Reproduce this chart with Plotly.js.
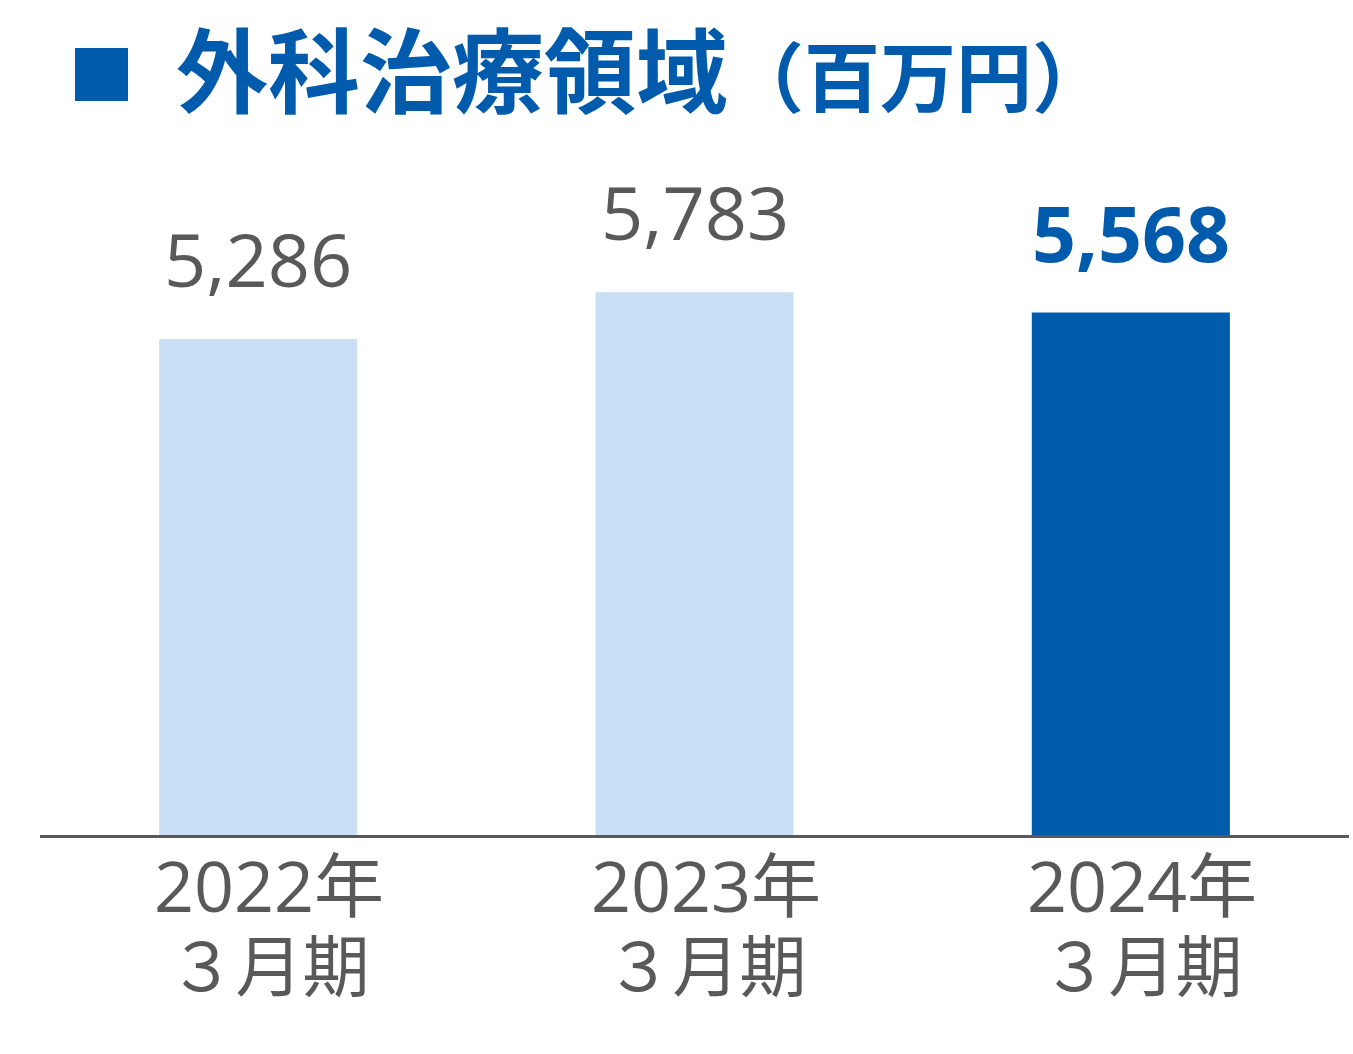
<!DOCTYPE html>
<html>
<head>
<meta charset="utf-8">
<script src="https://cdn.plot.ly/plotly-3.0.1.min.js"></script>
<style>html,body{margin:0;padding:0;background:#fff;}#chart{width:1353px;height:1054px;}</style>
</head>
<body>
<div id="chart"></div>
<script>
const titleMain = '外科治療領域';
const titleUnit = '（百万円）';
const years = ['2022年', '2023年', '2024年'];
const periods = ['３月期', '３月期', '３月期'];
const values = [5286, 5783, 5568];
const categories = years.map((y, i) => y + periods[i]);
const valueLabels = values.map(v => v.toLocaleString('en-US'));

const BLUE = '#005BAC';
const LIGHT = '#C9DFF5';
const GRAY = '#595959';
const barColors = values.map((v, i) => i === values.length - 1 ? BLUE : LIGHT);

const W = 1353, H = 1054;
const mL = 40, mR = 4, mT = 150, mB = 219;
const plotW = W - mL - mR, plotH = H - mT - mB;
const px2x = px => (px - mL) / plotW;
const py2y = py => (H - mB - py) / plotH;

const annotations = [];
// title
annotations.push({
  xref: 'paper', yref: 'paper', x: px2x(174), y: py2y(65), xanchor: 'left', yanchor: 'middle',
  text: '<b>' + titleMain + '<span style="font-size:76px">' + titleUnit + '</span></b>',
  showarrow: false,
  font: {family: 'Noto Sans CJK JP', size: 92, color: BLUE}
});
// value labels
values.forEach((v, i) => {
  const last = i === values.length - 1;
  annotations.push({
    xref: 'x', yref: 'y', x: categories[i], y: v, xanchor: 'center', yanchor: 'bottom',
    yshift: last ? 26 : 28, showarrow: false,
    text: last ? '<b>' + valueLabels[i] + '</b>' : valueLabels[i],
    font: {family: 'Open Sans, DejaVu Sans, sans-serif', size: last ? 77 : 74, color: last ? BLUE : GRAY}
  });
});
// category labels (two lines, one text each; base size sets the 79px line pitch)
years.forEach((y, i) => {
  annotations.push({
    xref: 'x', yref: 'paper', x: categories[i], y: py2y(924), xanchor: 'center', yanchor: 'middle',
    xshift: 11, showarrow: false,
    text: '<span style="font-size:70px">' + y + '</span><br><span style="font-size:67px">' + periods[i] + '</span>',
    font: {family: 'Open Sans, Noto Sans CJK JP, sans-serif', size: 61, color: GRAY}
  });
});

const data = [{
  type: 'bar',
  x: categories,
  y: values,
  marker: {color: barColors, line: {width: 0}},
  hoverinfo: 'none'
}];

const layout = {
  width: W, height: H,
  margin: {l: mL, r: mR, t: mT, b: mB, pad: 0},
  paper_bgcolor: '#fff', plot_bgcolor: '#fff',
  bargap: 0.546,
  showlegend: false,
  xaxis: {
    type: 'category', showticklabels: false, ticks: '', showgrid: false, zeroline: false,
    showline: true, linecolor: GRAY, linewidth: 3
  },
  yaxis: {
    range: [0, 7300], visible: false, showgrid: false, zeroline: false
  },
  shapes: [{
    type: 'rect', xref: 'paper', yref: 'paper',
    x0: px2x(75), x1: px2x(128), y0: py2y(101), y1: py2y(48),
    fillcolor: BLUE, line: {width: 0}
  }],
  annotations: annotations
};

Plotly.newPlot('chart', data, layout, {displayModeBar: false, staticPlot: true});
</script>
</body>
</html>
